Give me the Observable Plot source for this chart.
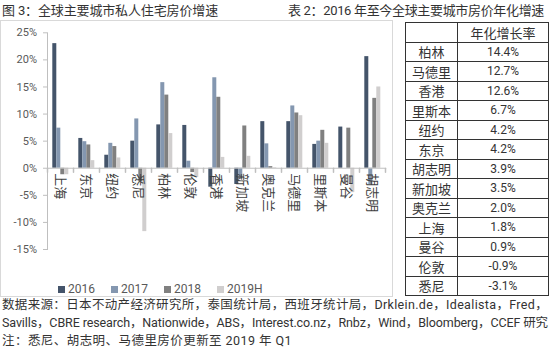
<!DOCTYPE html>
<html><head><meta charset="utf-8">
<script src="https://cdn.jsdelivr.net/npm/d3@7"></script>
<script src="https://cdn.jsdelivr.net/npm/@observablehq/plot@0.6"></script>
<style>
body{margin:0;width:550px;height:353px;position:relative;background:#fff;overflow:hidden;font-family:Roboto,"Noto Sans CJK SC",sans-serif;color:#333}
.t{position:absolute;white-space:nowrap;line-height:1}
#box{position:absolute;left:0;top:20px;width:393px;height:277px;border:1px solid #d9d9d9;box-sizing:border-box}
#chart{position:absolute;left:0;top:0}
#tbl{position:absolute;left:405px;top:22px;border-collapse:collapse;table-layout:fixed}
#tbl td{border:1px solid #333;height:18.5px;padding:0;text-align:center;line-height:1;color:#333}
#tbl td.c{font-family:"Noto Sans CJK SC",sans-serif;font-size:13px;width:51px}
#tbl td.v{font-family:Roboto,"Noto Sans CJK SC",sans-serif;font-size:12px;width:90px}
#legend{position:absolute;left:58px;top:283px;display:flex;font-size:12px;color:#595959;line-height:12px}
#legend .it{width:53px;display:flex;align-items:center}
#legend .sw{width:7px;height:7px;margin-right:3px}
</style></head>
<body>
<div id="box"></div>
<div id="chart"></div>
<div class="t" id="t1" style="left:2px;top:4px;font-size:13px;color:#333">图 3：全球主要城市私人住宅房价增速</div>
<div class="t" id="t2" style="left:288px;top:4px;font-size:13px;color:#333">表 2：2016 年至今全球主要城市房价年化增速</div>
<table id="tbl"></table>
<div id="legend"></div>
<div class="t" id="n1" style="left:2px;top:299px;font-size:12.5px">数据来源：日本不动产经济研究所，泰国统计局，西班牙统计局，Drklein.de，Idealista，Fred，</div>
<div class="t" id="n2" style="left:2px;top:317px;font-size:12.5px">Savills，CBRE research，Nationwide，ABS，Interest.co.nz，Rnbz，Wind，Bloomberg，CCEF 研究</div>
<div class="t" id="n3" style="left:2px;top:335px;font-size:12.5px">注：悉尼、胡志明、马德里房价更新至 2019 年 Q1</div>
<script>
// ---- data ----
const cities = ["上海","东京","纽约","悉尼","柏林","伦敦","香港","新加坡","奥克兰","马德里","里斯本","曼谷","胡志明"];
const seriesNames = ["2016","2017","2018","2019H"];
const v2016  = [23.0, 5.5, 2.4, 5.0,  8.0, 7.9, -3.5, -3.0, 8.6, 8.6, 4.4, 7.6, 20.6];
const v2017  = [7.4,  4.9, 4.6, 9.1, 15.8, 1.3, 16.7, -2.0, 4.5, 11.5, 5.0, 0.0, -3.0];
const v2018  = [-1.2, 4.3, 4.0, -2.5, 13.5, -0.8, 13.1, 7.8, 0.3, 10.2, 7.0, 7.4, 12.9];
const v2019H = [-1.2, 1.4, 1.9, -11.7, 6.4, -1.7, 2.0, 2.2, 0.1, 9.7, 4.6, -4.5, 15.0];
const seriesValues = [v2016, v2017, v2018, v2019H];
const colors = ["#44546a","#8497b0","#808080","#d0cece"];
const yTicks = [-0.15,-0.10,-0.05,0,0.05,0.10,0.15,0.20,0.25];

const tableHeader = "年化增长率";
const tableCities = ["柏林","马德里","香港","里斯本","纽约","东京","胡志明","新加坡","奥克兰","上海","曼谷","伦敦","悉尼"];
const tableRates  = ["14.4%","12.7%","12.6%","6.7%","4.2%","4.2%","3.9%","3.5%","2.0%","1.8%","0.9%","-0.9%","-3.1%"];

// ---- chart ----
const rows = cities.flatMap((c, i) => seriesNames.map((s, k) => ({city: c, series: s, value: seriesValues[k][i] / 100})));
const tickShape = {draw(ctx, l) { ctx.moveTo(0, 0); ctx.lineTo(0, -l); }};

const chart = Plot.plot({
  width: 400, height: 300,
  marginLeft: 41.7, marginRight: 10, marginTop: 32.3, marginBottom: 51,
  style: {fontFamily: "Roboto, 'Noto Sans CJK SC', sans-serif", background: "transparent"},
  fx: {domain: cities, padding: 0, axis: null, label: null},
  x: {domain: seriesNames, paddingInner: 0, paddingOuter: 0.68, axis: null, label: null},
  y: {domain: [-0.15, 0.25], axis: null, label: null},
  color: {domain: seriesNames, range: colors},
  marks: [
    Plot.barY(rows, {fx: "city", x: "series", y: "value", fill: "series"}),
    Plot.ruleY([0], {stroke: "#bfbfbf"}),
    Plot.frame({anchor: "left", facetAnchor: "left", stroke: "#bfbfbf"}),
    Plot.axisY({ticks: yTicks, text: null, label: null, tickSize: 4, stroke: "#bfbfbf", anchor: "left"}),
    Plot.axisY({ticks: yTicks, label: null, tickSize: 0, tickPadding: 10.5, tickFormat: d => Math.round(d * 100) + "%", fill: "#595959", fontSize: 11, anchor: "left"}),
    Plot.vector(cities, {fx: d => d, y: () => 0, frameAnchor: "left", length: 4, rotate: 180, anchor: "start", shape: tickShape, stroke: "#bfbfbf"}),
    Plot.vector(cities.slice(-1), {fx: d => d, y: () => 0, frameAnchor: "right", length: 4, rotate: 180, anchor: "start", shape: tickShape, stroke: "#bfbfbf"}),
    Plot.text(cities, {fx: d => d, y: () => 0, text: d => d, rotate: 90, textAnchor: "start", dy: 5, fontSize: 13, fill: "#404040", fontFamily: "'Noto Sans CJK SC', sans-serif"})
  ]
});
document.getElementById("chart").append(chart);

// ---- legend ----
const lg = document.getElementById("legend");
seriesNames.forEach((s, k) => {
  const it = document.createElement("div"); it.className = "it";
  const sw = document.createElement("div"); sw.className = "sw"; sw.style.background = colors[k];
  const tx = document.createElement("span"); tx.textContent = s;
  it.append(sw, tx); lg.append(it);
});

// ---- table ----
const tbl = document.getElementById("tbl");
const addRow = (a, b) => {
  const tr = document.createElement("tr");
  const c1 = document.createElement("td"); c1.className = "c"; c1.textContent = a;
  const c2 = document.createElement("td"); c2.className = b === tableHeader ? "c" : "v"; c2.textContent = b;
  tr.append(c1, c2); tbl.append(tr);
};
addRow("", tableHeader);
tableCities.forEach((c, i) => addRow(c, tableRates[i]));

// ---- fit text widths ----
function fit(id, target) {
  const el = document.getElementById(id);
  const w = el.getBoundingClientRect().width;
  const n = el.textContent.length;
  el.style.letterSpacing = ((target - w) / n) + "px";
}
fit("t1", 216); fit("t2", 256); fit("n1", 546); fit("n2", 546); fit("n3", 290);
</script>
</body></html>
